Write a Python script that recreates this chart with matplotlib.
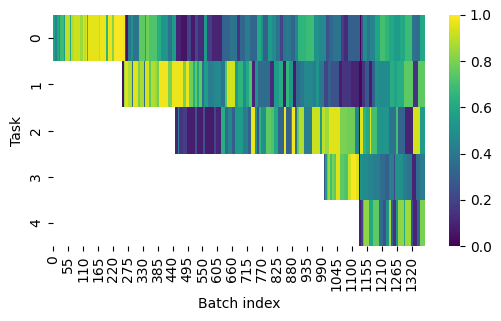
import matplotlib
matplotlib.use("Agg")
import matplotlib.pyplot as plt
import numpy as np
import seaborn as sns

N_BATCHES = 1370
task_starts = [0, 254, 449, 998, 1126]

# run lengths (in batches) and accuracy-like value for each run
task0_runs = [9, 4, 5, 5, 4, 12, 5, 18, 4, 10, 6, 18, 9, 4, 7, 6, 3, 39, 4, 25, 4, 15, 10, 32, 6,
              6, 6, 10, 9, 21, 21, 5, 13, 29, 12, 27, 16, 15, 16,
              22, 15, 15, 12, 21, 11, 21, 36, 28, 26, 11, 18, 18, 26, 15, 7, 18, 15, 15, 15, 11, 11, 18, 15, 11, 29,
              33, 15, 26, 11, 18, 26, 12, 15, 43, 5, 6, 17, 12, 18, 18, 18, 15, 16, 25, 18, 25, 12, 18, 18]
task0_vals = [.58, .45, .58, .62, .5, .68, .55, .9, .6, .88, .93, .92, .85, .95, .9, .95, .65, .96, .9, .97, .65, .97, .82, .99, .98,
              .2, .05, .4, .5, .38, .75, .55, .78, .72, .62, .52, .38, .55, .1,
              .05, .2, .07, .22, .12, .55, .18, .1, .32, .38, .15, .33, .42, .33, .6, .5, .3, .55, .48, .38, .2, .38, .4, .33, .45, .65,
              .68, .5, .47, .25, .33, .38, .18, .12, .3, 0.0, .25, .48, .38, .45, .58, .7, .65, .6, .55, .6, .68, .38, .35, .6]

task1_runs = [7, 4, 11, 16, 4, 18, 6, 15, 4, 15, 7, 15, 7, 9, 32, 13, 43, 10, 12, 15, 7, 7, 7, 10, 9, 15, 16, 31, 16, 7, 29, 11, 16, 12, 12, 11, 11, 11, 44, 15,
              18, 15, 10, 12, 15, 11, 15, 15, 31, 12, 12, 18, 15, 11, 29, 12, 31, 31, 12, 9, 16, 9, 12, 16, 39, 16, 12, 25, 33, 18, 26]
task1_vals = [.05, .85, .95, .88, .35, .95, .8, .87, .35, .93, .75, .88, .85, .78, .98, .8, .97, .8, .97, .78, .62, .75, .6, .75, .35, .55, .42, .47, .38, .72, .93, .55, .65, .48, .6, .72, .1, .5, .35, .12,
              .55, .62, .07, .66, .55, .07, .35, .4, .47, .42, .52, .4, .2, .3, .25, .08, .15, .1, .02, .15, .28, .08, .3, .5, .48, .62, .58, .62, .75, .15, .75]

task2_runs = [11, 4, 16, 12, 31, 7, 23, 6, 33, 7, 18, 18, 11, 15, 11, 29, 18, 11, 15, 7, 7, 7, 18, 18, 11,
              15, 22, 7, 18, 7, 11, 7, 7, 18, 29, 29, 7, 11, 15, 41, 26, 29, 15, 4, 11, 11, 15, 4, 21, 45, 26, 7, 26, 27, 28, 18]
task2_vals = [.1, .45, .15, .18, .08, .25, .08, .25, .07, .22, .1, .62, .35, .45, .3, .55, .42, .3, .97, .5, .25, .65, .5, .75, .72,
              .6, .32, .97, .3, .55, .98, .35, .75, .88, .42, .92, .55, .9, .85, .95, .8, .78, .45, .03, .95, .65, .6, .95, .7, .52, .38, .7, .32, .1, .93, .55]

task3_runs = [4, 7, 4, 7, 7, 7, 7, 15, 15, 15, 11, 18, 11, 4, 12, 18, 18, 25, 18, 15, 18, 7, 29, 15, 18, 15, 15, 17]
task3_vals = [.25, .55, .75, .85, .7, .8, .75, .95, .75, .72, .92, .99, .95, .02, .5, .48, .45, .42, .35, .3, .42, .2, .5, .42, .38, .1, .35, .42]

task4_runs = [7, 7, 7, 18, 15, 20, 15, 10, 11, 7, 9, 10, 7, 22, 7, 22, 7, 15, 11, 17]
task4_vals = [.1, .2, .72, .83, .6, .75, .35, .25, .5, .85, .3, .15, .5, .83, .6, .85, .25, .1, .3, .8]

all_runs = [task0_runs, task1_runs, task2_runs, task3_runs, task4_runs]
all_vals = [task0_vals, task1_vals, task2_vals, task3_vals, task4_vals]

mat = np.full((len(all_runs), N_BATCHES), np.nan)
for i, (runs, vals) in enumerate(zip(all_runs, all_vals)):
    mat[i, task_starts[i]:] = np.repeat(vals, runs)

W, H = 501, 321
fig = plt.figure(figsize=(W / 100, H / 100), dpi=100)
ax = fig.add_axes([53 / W, 1 - 246 / H, 372 / W, 231 / H])
cax = fig.add_axes([449 / W, 1 - 246 / H, 11 / W, 231 / H])

sns.heatmap(mat, ax=ax, cbar_ax=cax, cmap="viridis", vmin=0, vmax=1, xticklabels=55)
ax.set_xlabel("Batch index")
ax.set_ylabel("Task")

fig.savefig("out.png", dpi=100)
